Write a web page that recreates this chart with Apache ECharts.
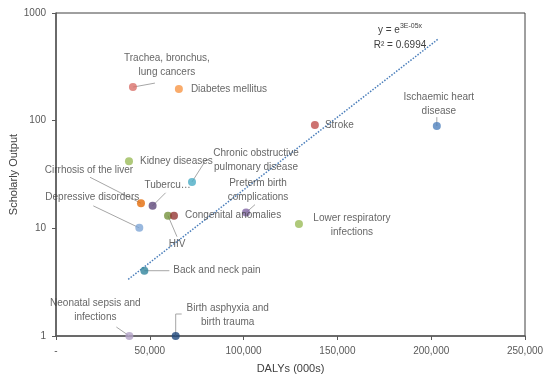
<!DOCTYPE html>
<html>
<head>
<meta charset="utf-8">
<script src="https://cdn.jsdelivr.net/npm/echarts@6/dist/echarts.min.js"></script>
<style>html,body{margin:0;padding:0;background:#fff}#c{width:554px;height:384px}</style>
</head>
<body>
<div id="c"></div>
<script>
// ---- data ----
const diseases = [
  'Trachea, bronchus,\nlung cancers', 'Diabetes mellitus', 'Ischaemic heart\ndisease', 'Stroke',
  'Kidney diseases', 'Chronic obstructive\npulmonary disease', 'Cirrhosis of the liver', 'Tubercu…',
  'Depressive disorders', 'HIV', 'Congenital anomalies', 'Preterm birth\ncomplications',
  'Lower respiratory\ninfections', 'Back and neck pain', 'Neonatal sepsis and\ninfections', 'Birth asphyxia and\nbirth trauma'
];
const dalys = [41000, 65500, 203000, 138000, 38900, 72500, 45300, 51500, 44400, 59700, 62900, 101300, 129500, 47100, 39100, 63800];
const scholarlyOutput = [205, 197, 89, 91, 42, 27, 17.1, 16.2, 10.1, 13.1, 13.1, 14.0, 11.0, 4.04, 1, 1];
const trendX = [38500, 203500];
const trendY = [3.36, 569];
const yTicks = [1, 10, 100, 1000];

// ---- styles / layout ----
const colors = ['#D9706A', '#F79646', '#4F81BD', '#C0504D', '#9BBB59', '#4BACC6', '#E36C09', '#5F497A',
  '#7FA6D6', '#76923C', '#953735', '#8064A2', '#9BBB59', '#31859C', '#B3A2C7', '#1F497D'];
// 'c' = centred label shifted by dx,dy (px); 'r' = right of the point at distance d (px)
const labelPos = [
  {t:'c', dx:34, dy:-22}, {t:'r', d:8}, {t:'c', dx:2, dy:-22}, {t:'r', d:6},
  {t:'r', d:7}, {t:'c', dx:64, dy:-22}, {t:'c', dx:-52, dy:-33}, {t:'c', dx:15, dy:-21},
  {t:'c', dx:-47, dy:-31}, {t:'c', dx:9, dy:29}, {t:'r', d:7}, {t:'c', dx:12, dy:-22},
  {t:'c', dx:53, dy:1}, {t:'r', d:25}, {t:'c', dx:-34, dy:-26}, {t:'c', dx:52, dy:-21}
];
// leader line vertices as pixel offsets from the point (null = no leader)
const leaders = [
  [[0,0],[22,-4]], null, [[0,0],[0,-9]], null,
  null, [[0,0],[14,-22],[16,-22]], [[0,0],[-51,-26]], [[0,0],[13,-13]],
  [[0,0],[-46,-22]], [[0,0],[9,21]], null, [[0,0],[9,-8]],
  null, [[0,0],[25,0]], [[0,0],[-13,-9]], [[0,0],[0,-22],[6,-22]]
];
const FONT = 'Liberation Sans';

const points = diseases.map((n, i) => {
  const p = labelPos[i];
  const item = {name: n, value: [dalys[i], scholarlyOutput[i]], itemStyle: {color: colors[i]}};
  item.label = p.t === 'r'
    ? {position: 'right', distance: p.d, align: 'left'}
    : {position: 'inside', align: 'center', verticalAlign: 'middle'};
  return item;
});

const chart = echarts.init(document.getElementById('c'), null, {renderer: 'canvas'});
chart.setOption({
  animation: false,
  textStyle: {fontFamily: FONT},
  grid: {left: 56, right: 29, top: 13, bottom: 48, containLabel: false, outerBoundsMode: 'none',
         show: true, borderColor: '#404040', borderWidth: 1},
  xAxis: {
    type: 'value', min: 0, max: 250000, interval: 50000,
    name: 'DALYs (000s)', nameLocation: 'middle', nameGap: 27, nameMoveOverlap: false,
    nameTextStyle: {fontFamily: FONT, fontSize: 11, color: '#404040'},
    axisLine: {show: true, lineStyle: {color: '#595959', width: 1.5}},
    axisTick: {show: true, length: 4, lineStyle: {color: '#595959'}},
    splitLine: {show: false},
    axisLabel: {fontFamily: FONT, fontSize: 10, color: '#595959', margin: 10,
      formatter: v => v === 0 ? '-' : v.toLocaleString('en-US')}
  },
  yAxis: {
    type: 'log', logBase: 10, min: yTicks[0], max: yTicks[yTicks.length - 1],
    name: 'Scholarly Output', nameLocation: 'middle', nameGap: 37, nameRotate: 90, nameMoveOverlap: false,
    nameTextStyle: {fontFamily: FONT, fontSize: 11, color: '#404040'},
    axisLine: {show: true, lineStyle: {color: '#595959', width: 1.5}},
    axisTick: {show: true, length: 4, lineStyle: {color: '#595959'}},
    minorTick: {show: false},
    splitLine: {show: false},
    axisLabel: {fontFamily: FONT, fontSize: 10, color: '#595959', margin: 10, formatter: v => String(v)}
  },
  series: [
    {
      type: 'line',
      data: trendX.map((x, i) => [x, trendY[i]]),
      symbol: 'none', silent: true, z: 1,
      lineStyle: {color: '#4A7EBB', width: 1.5, type: [1.5, 1.5]}
    },
    {
      type: 'custom', z: 2, silent: true,
      data: dalys.map((x, i) => [x, scholarlyOutput[i], i]),
      renderItem: (params, api) => {
        const i = api.value(2);
        const l = leaders[i];
        if (!l) return null;
        const c = api.coord([api.value(0), api.value(1)]);
        return {
          type: 'polyline',
          shape: {points: l.map(o => [c[0] + o[0], c[1] + o[1]])},
          style: {stroke: '#A6A6A6', lineWidth: 1, fill: null}
        };
      }
    },
    {
      type: 'scatter', symbolSize: 8, z: 3,
      data: points,
      label: {show: true, formatter: p => p.name, fontFamily: FONT, fontSize: 10,
              color: '#404040', lineHeight: 14},
      labelLine: {show: false},
      labelLayout: params => {
        const p = labelPos[params.dataIndex];
        return p.t === 'c' ? {dx: p.dx, dy: p.dy} : {};
      }
    }
  ],
  graphic: [{
    type: 'text', x: 400, y: 38, z: 10,
    style: {
      text: 'y = e{sup|3E-05x}\nR² = 0.6994',
      align: 'center', verticalAlign: 'middle',
      fontFamily: FONT, fontSize: 10, fill: '#404040', lineHeight: 15,
      rich: {sup: {fontSize: 7, verticalAlign: 'top', fontFamily: FONT, fill: '#404040', padding: [0, 0, 5, 0]}}
    }
  }]
});
</script>
</body>
</html>
